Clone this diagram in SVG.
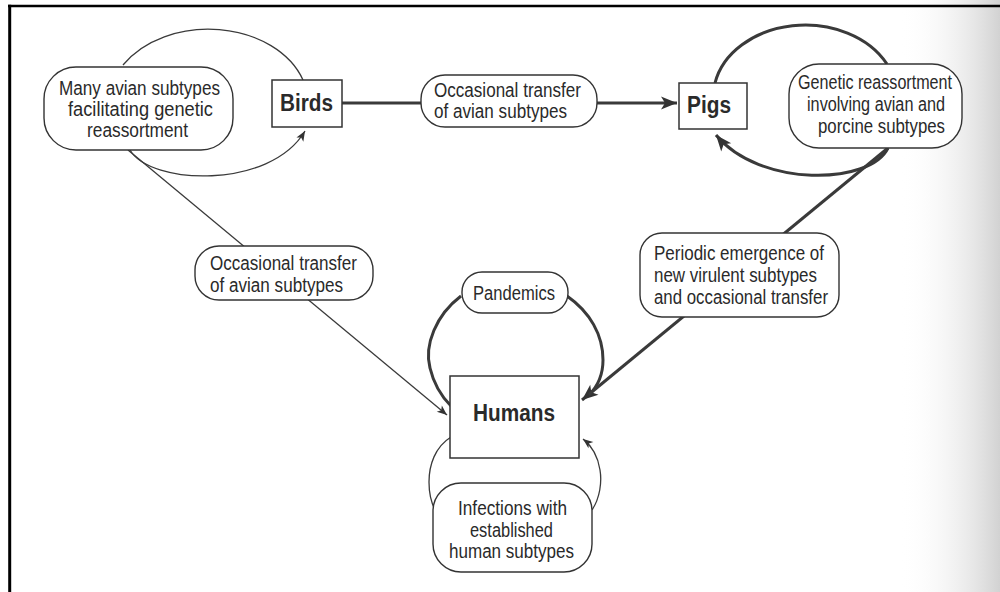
<svg xmlns="http://www.w3.org/2000/svg" width="1000" height="592" viewBox="0 0 1000 592">
<defs>
<linearGradient id="scan" x1="0" y1="0" x2="1" y2="0">
<stop offset="0" stop-color="#ffffff" stop-opacity="0"/>
<stop offset="1" stop-color="#d2d2d2" stop-opacity="1"/>
</linearGradient>
<marker id="bigArrow" markerUnits="userSpaceOnUse" viewBox="-17 -9 18 18" markerWidth="18" markerHeight="18" refX="0" refY="0" orient="auto">
<path d="M0,0 L-16,-6.5 L-12,0 L-16,6.5 Z" fill="#333"/>
</marker>
<marker id="smallArrow" markerUnits="userSpaceOnUse" viewBox="-12 -6 13 12" markerWidth="13" markerHeight="12" refX="0" refY="0" orient="auto">
<path d="M0,0 L-10,-4 L-7.5,0 L-10,4 Z" fill="#333"/>
</marker>
</defs>
<style>
.bg{fill:#ffffff}
.frame{stroke:#000;fill:none}
.thick{stroke:#3a3a3a;stroke-width:3;fill:none}
.thin{stroke:#3a3a3a;stroke-width:1.3;fill:none}
.box{fill:#ffffff;stroke:#333;stroke-width:1.5}
.lbl{fill:#ffffff;stroke:#333;stroke-width:1.4}
.t{font-family:"Liberation Sans",Arial,sans-serif;font-size:19.5px;fill:#2a2a2a}
.b{font-family:"Liberation Sans",Arial,sans-serif;font-size:23px;font-weight:bold;fill:#2a2a2a}
</style>
<rect class="bg" x="0" y="0" width="1000" height="592"/>
<rect x="900" y="0" width="100" height="592" fill="url(#scan)"/>
<line class="frame" x1="8" y1="6" x2="1000" y2="6" stroke-width="2.6"/>
<line class="frame" x1="9.7" y1="4.7" x2="9.7" y2="592" stroke-width="3"/>

<g id="connectors">
<!-- Birds loop -->
<path class="thin" d="M123,65 A100,75 0 0 1 303,80"/>
<path class="thin" d="M130,150 C150,185 270,190 305,131" marker-end="url(#smallArrow)"/>
<!-- Birds to Pigs -->
<line class="thick" x1="342" y1="103" x2="421" y2="103"/>
<line class="thick" x1="597" y1="103" x2="677" y2="103" marker-end="url(#bigArrow)"/>
<!-- Pigs loop -->
<path class="thick" d="M715,83 A92,72 0 0 1 887,64"/>
<path class="thick" d="M888,148 C870,185 760,188 716,135" marker-end="url(#bigArrow)"/>
<!-- Pigs to Humans -->
<line class="thick" x1="888" y1="148" x2="582" y2="400" marker-end="url(#bigArrow)"/>
<!-- Birds to Humans -->
<line class="thin" x1="128" y1="150" x2="447" y2="415" marker-end="url(#smallArrow)"/>
<!-- Pandemics loop -->
<path class="thick" d="M461,296 C436,315 424,345 430,368 C434,385 441,396 451,406"/>
<path class="thick" d="M567,296 C590,312 603,335 603,360 C603,375 598,386 589,395"/>
<!-- Infections loop -->
<path class="thin" d="M451,437 C435,447 429,465 429,482 C429,494 431,502 435,510"/>
<path class="thin" d="M592,510 C600,498 602,482 600,470 C598,457 592,446 583,439" marker-end="url(#smallArrow)"/>
</g>

<g id="birds-reassortment">
<rect class="lbl" x="44" y="67" width="189" height="83" rx="32" ry="32"/>
<text class="t" x="59" y="95" textLength="161" lengthAdjust="spacingAndGlyphs">Many avian subtypes</text>
<text class="t" x="68" y="116" textLength="145" lengthAdjust="spacingAndGlyphs">facilitating genetic</text>
<text class="t" x="87" y="137" textLength="101" lengthAdjust="spacingAndGlyphs">reassortment</text>
</g>

<g id="birds">
<rect class="box" x="272" y="80" width="70" height="47"/>
<text class="b" x="280" y="111" textLength="53" lengthAdjust="spacingAndGlyphs">Birds</text>
</g>

<g id="label-birds-pigs">
<rect class="lbl" x="421" y="75" width="176" height="52" rx="24" ry="24"/>
<text class="t" x="434" y="97" textLength="147" lengthAdjust="spacingAndGlyphs">Occasional transfer</text>
<text class="t" x="434" y="118" textLength="133" lengthAdjust="spacingAndGlyphs">of avian subtypes</text>
</g>

<g id="pigs">
<rect class="box" x="679" y="83" width="68" height="46"/>
<text class="b" x="687" y="113" textLength="44" lengthAdjust="spacingAndGlyphs">Pigs</text>
</g>

<g id="pigs-reassortment">
<rect class="lbl" x="789" y="64" width="173" height="84" rx="30" ry="30"/>
<text class="t" x="798" y="89" textLength="154" lengthAdjust="spacingAndGlyphs">Genetic reassortment</text>
<text class="t" x="807" y="111" textLength="138" lengthAdjust="spacingAndGlyphs">involving avian and</text>
<text class="t" x="818" y="133" textLength="127" lengthAdjust="spacingAndGlyphs">porcine subtypes</text>
</g>

<g id="label-birds-humans">
<rect class="lbl" x="195" y="246" width="178" height="54" rx="24" ry="24"/>
<text class="t" x="210" y="270" textLength="147" lengthAdjust="spacingAndGlyphs">Occasional transfer</text>
<text class="t" x="210" y="292" textLength="133" lengthAdjust="spacingAndGlyphs">of avian subtypes</text>
</g>

<g id="label-pigs-humans">
<rect class="lbl" x="640" y="233" width="199" height="84" rx="22" ry="22"/>
<text class="t" x="654" y="260" textLength="170" lengthAdjust="spacingAndGlyphs">Periodic emergence of</text>
<text class="t" x="654" y="282" textLength="163" lengthAdjust="spacingAndGlyphs">new virulent subtypes</text>
<text class="t" x="654" y="304" textLength="174" lengthAdjust="spacingAndGlyphs">and occasional transfer</text>
</g>

<g id="pandemics">
<rect class="lbl" x="462" y="272" width="106" height="41" rx="20" ry="20"/>
<text class="t" x="473" y="300" textLength="82" lengthAdjust="spacingAndGlyphs">Pandemics</text>
</g>

<g id="humans">
<rect class="box" x="450" y="376" width="129" height="82"/>
<text class="b" x="473" y="421" textLength="82" lengthAdjust="spacingAndGlyphs">Humans</text>
</g>

<g id="infections">
<rect class="lbl" x="433" y="483" width="159" height="89" rx="28" ry="28"/>
<text class="t" x="458" y="515" textLength="109" lengthAdjust="spacingAndGlyphs">Infections with</text>
<text class="t" x="470" y="537" textLength="83" lengthAdjust="spacingAndGlyphs">established</text>
<text class="t" x="449" y="558" textLength="125" lengthAdjust="spacingAndGlyphs">human subtypes</text>
</g>
</svg>
